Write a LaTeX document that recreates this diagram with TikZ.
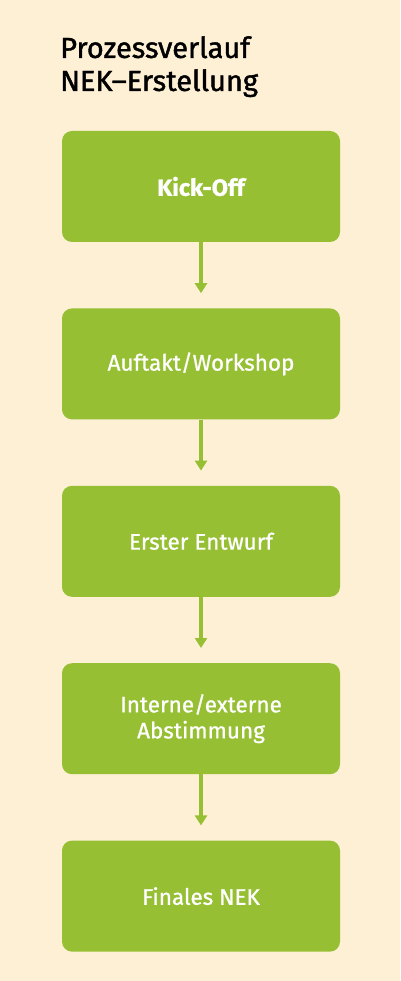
\documentclass[tikz,border=0pt]{standalone}
\usepackage{fontspec}
\setmainfont{Fira Sans}[FakeBold=0.9]
\newfontfamily\titlefont{Fira Sans}[FakeBold=1.4]
\usetikzlibrary{positioning,arrows.meta}
\definecolor{bgcream}{HTML}{FDF0D5}
\definecolor{leafgreen}{HTML}{96BF33}
\begin{document}
\begin{tikzpicture}[x=1pt,y=-1pt]
   \tikzstyle{stepbox}=[fill=leafgreen, rounded corners=10pt, minimum width=278pt, minimum height=111pt, inner sep=0pt, text=white, align=center, font=\fontsize{22.5}{26}\selectfont]
   \tikzstyle{flow}=[draw=leafgreen, line width=4pt, -{Triangle[width=12pt,length=10pt]}, shorten >=15pt]
   \tikzstyle{every node}=[node distance=66pt]

\fill[bgcream] (0,0) rectangle (400,981);
\node[anchor=north west, align=left, inner sep=0pt, font=\titlefont\fontsize{29}{33}\selectfont] (title) at (60,36) {Prozessverlauf\\NEK–Erstellung};

\node[stepbox, font=\fontsize{23.5}{26}\selectfont\bfseries] (kickoff) at (201,186.5) {Kick-Off};
\node[stepbox, below=of kickoff] (workshop) {Auftakt/Workshop};
\node[stepbox, below=of workshop] (entwurf) {Erster Entwurf};
\node[stepbox, below=of entwurf] (abstimmung) {Interne/externe\\Abstimmung};
\node[stepbox, below=of abstimmung] (finale) {Finales NEK};

\draw[flow] (kickoff) -- (workshop);
\draw[flow] (workshop) -- (entwurf);
\draw[flow] (entwurf) -- (abstimmung);
\draw[flow] (abstimmung) -- (finale);

\end{tikzpicture}
\end{document}
